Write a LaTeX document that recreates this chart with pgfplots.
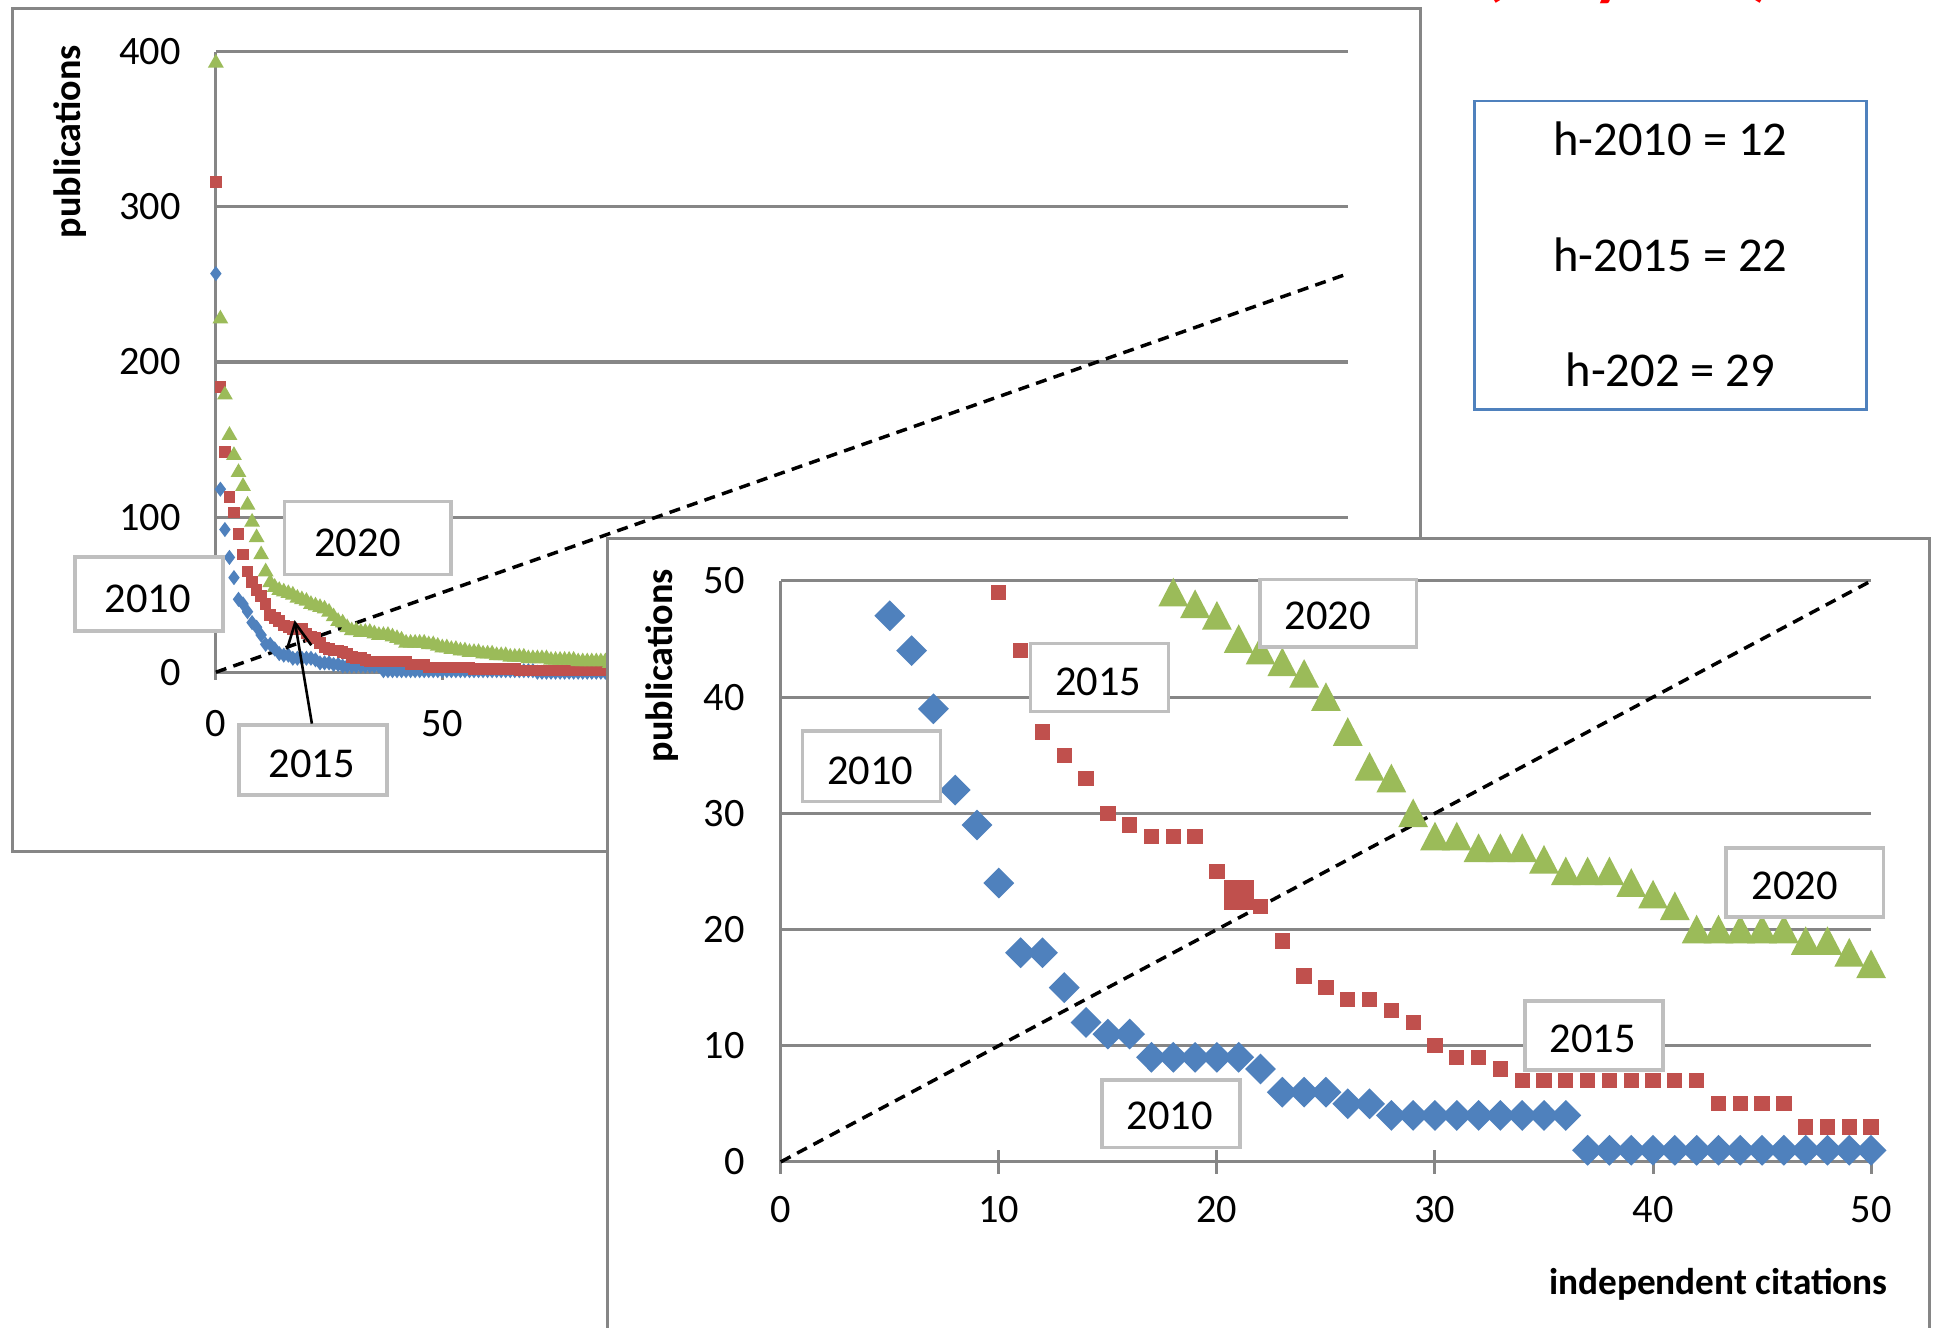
\documentclass[border=0pt]{standalone}
\usepackage{pgfplots}
\pgfplotsset{compat=1.18}
\usepackage{pgfplotstable}
\usepackage{fontspec}
\setmainfont{Carlito}
\usetikzlibrary{arrows.meta}
\definecolor{cblue}{HTML}{4F81BD}
\definecolor{cred}{HTML}{C0504D}
\definecolor{cgreen}{HTML}{9BBB59}
\definecolor{gridc}{HTML}{868686}
\definecolor{lblc}{HTML}{BFBFBF}

\pgfplotstableread{
x y
0 257
1 118
2 92
3 74
4 61
5 47
6 44
7 39
8 32
9 29
10 24
11 18
12 18
13 15
14 12
15 11
16 11
17 9
18 9
19 9
20 9
21 9
22 8
23 6
24 6
25 6
26 5
27 5
28 4
29 4
30 4
31 4
32 4
33 4
34 4
35 4
36 4
37 1
38 1
39 1
40 1
41 1
42 1
43 1
44 1
45 1
46 1
47 1
48 1
49 1
50 1
51 1
52 1
53 1
54 1
55 1
56 1
57 1
58 1
59 1
60 1
61 1
62 1
63 1
64 1
65 1
66 1
67 1
68 1
69 1
70 1
71 0
72 0
73 0
74 0
75 0
76 0
77 0
78 0
79 0
80 0
81 0
82 0
83 0
84 0
85 0
86 0
87 0
88 0
89 0
90 0
}\tblue

\pgfplotstableread{
x y
0 316
1 184
2 142
3 113
4 103
5 89
6 76
7 65
8 58
9 53
10 49
11 44
12 37
13 35
14 33
15 30
16 29
17 28
18 28
19 28
20 25
21 23
22 22
23 19
24 16
25 15
26 14
27 14
28 13
29 12
30 10
31 9
32 9
33 8
34 7
35 7
36 7
37 7
38 7
39 7
40 7
41 7
42 7
43 5
44 5
45 5
46 5
47 3
48 3
49 3
50 3
51 3
52 3
53 3
54 3
55 3
56 3
57 2
58 2
59 2
60 2
61 2
62 2
63 2
64 2
65 2
66 2
67 1
68 1
69 1
70 1
71 1
72 1
73 1
74 1
75 1
76 1
77 1
78 1
79 1
80 1
81 1
82 1
83 1
84 1
85 1
86 1
87 1
88 1
89 1
90 1
}\tred

\pgfplotstableread{
x y
0 394
1 229
2 180
3 154
4 141
5 130
6 121
7 109
8 98
9 88
10 77
11 66
12 59
13 56
14 54
15 53
16 52
17 51
18 49
19 48
20 47
21 45
22 44
23 43
24 42
25 40
26 37
27 34
28 33
29 30
30 28
31 28
32 27
33 27
34 27
35 26
36 25
37 25
38 25
39 24
40 23
41 22
42 20
43 20
44 20
45 20
46 20
47 19
48 19
49 18
50 17
51 17
52 16
53 16
54 15
55 15
56 14
57 14
58 14
59 13
60 13
61 13
62 12
63 12
64 12
65 11
66 11
67 11
68 11
69 10
70 10
71 10
72 10
73 10
74 9
75 9
76 9
77 9
78 9
79 9
80 8
81 8
82 8
83 8
84 8
85 8
86 8
87 7
88 7
89 7
90 7
}\tgreen

\pgfplotsset{
  mystyle/.style={
    scale only axis, anchor=south west, clip=false,
    axis lines*=left, axis line style={-, draw=gridc, line width=0.7pt},
    ymajorgrids, major grid style={draw=gridc, line width=0.7pt},
    xtick style={draw=gridc, line width=0.7pt}, ytick style={draw=none},
    ticklabel style={font=\fontsize{9.3}{11}\selectfont},
    /pgf/number format/assume math mode=true,
  },
}
\tikzset{lblbox/.style={draw=lblc, fill=white, line width=0.8pt}}

\begin{document}
\begin{tikzpicture}
\begin{scope}[x=0.01cm,y=-0.01cm,shift={(0,10.76cm)}]
  \draw[gridc, fill=white, line width=0.7pt] (10,7) rectangle (1152,691);
\end{scope}

% main chart
\begin{axis}[mystyle,
  at={(1.75cm,5.31cm)}, width=9.18cm, height=5.03cm,
  xmin=0, xmax=250, ymin=0, ymax=400,
  xtick={0,50,...,250}, ytick={0,100,...,400},
  tick align=outside, major tick length=0.06cm,
  xticklabel style={anchor=base, inner sep=0pt, yshift=-0.46cm},
  yticklabel style={anchor=east, inner sep=0pt, xshift=-0.22cm},
]
\addplot[only marks, mark=diamond*, mark size=0.05cm, mark options={draw=cblue, fill=cblue}] table[x=x,y=y] {\tblue};
\addplot[only marks, mark=square*, mark size=0.04cm, mark options={draw=cred, fill=cred}] table[x=x,y=y] {\tred};
\addplot[only marks, mark=triangle*, mark size=0.06cm, mark options={draw=cgreen, fill=cgreen, yshift=-0.015cm}] table[x=x,y=y] {\tgreen};
\addplot[black, line width=0.8pt, dash pattern=on 0.09cm off 0.06cm] coordinates {(0,0) (250,257)};
\end{axis}

\begin{scope}[x=0.01cm,y=-0.01cm,shift={(0,10.76cm)}]
  \node[rotate=90, font=\bfseries\fontsize{8.8}{10}\selectfont] at (57,115) {publications};
  \draw[lblbox] (231,407) rectangle (366,466);
  \node[font=\fontsize{9.8}{12}\selectfont] at (290,440) {2020};
  \draw[lblbox] (61,452) rectangle (181,512);
  \node[font=\fontsize{9.8}{12}\selectfont] at (120,486) {2010};
  \draw[lblbox] (194,588) rectangle (314,645);
  \node[font=\fontsize{9.8}{12}\selectfont] at (253,620) {2015};
  \draw[black, line width=0.6pt, -{Straight Barb[length=0.2cm,width=0.2cm]}] (253,587) -- (239,503);
  % inset frame
  \draw[gridc, fill=white, line width=0.7pt] (493,437) rectangle (1565,1095);
\end{scope}

% inset chart
\begin{axis}[mystyle,
  at={(6.33cm,1.34cm)}, width=8.84cm, height=4.71cm,
  xmin=0, xmax=50, ymin=0, ymax=50,
  xtick={0,10,...,50}, ytick={0,10,...,50},
  tick align=center, major tick length=0.19cm,
  xticklabel style={anchor=base, inner sep=0pt, yshift=-0.40cm},
  yticklabel style={anchor=east, inner sep=0pt, xshift=-0.19cm},
  restrict x to domain=0:50, restrict y to domain=0:50,
]
\addplot[only marks, mark=diamond*, mark size=0.115cm, mark options={draw=cblue, fill=cblue, xscale=1.333}] table[x=x,y=y] {\tblue};
\addplot[only marks, mark=square*, mark size=0.055cm, mark options={draw=cred, fill=cred}] table[x=x,y=y] {\tred};
\addplot[only marks, mark=square*, mark size=0.115cm, mark options={draw=cred, fill=cred}] coordinates {(21,23)};
\addplot[only marks, mark=triangle*, mark size=0.14cm, mark options={draw=cgreen, fill=cgreen, xscale=0.9, yshift=-0.035cm}] table[x=x,y=y] {\tgreen};
\addplot[black, line width=0.8pt, dash pattern=on 0.09cm off 0.06cm] coordinates {(0,0) (50,50)};
\end{axis}

\begin{scope}[x=0.01cm,y=-0.01cm,shift={(0,10.76cm)}]
  \node[rotate=90, font=\bfseries\fontsize{8.8}{10}\selectfont] at (537,540) {publications};
  \node[font=\bfseries\fontsize{8.6}{10}\selectfont] at (1394,1042) {independent citations};
  \draw[lblbox] (1022,470) rectangle (1149,525);
  \node[font=\fontsize{9.8}{12}\selectfont] at (1077,500) {2020};
  \draw[lblbox] (836,522) rectangle (948,577);
  \node[font=\fontsize{9.8}{12}\selectfont] at (891,553) {2015};
  \draw[lblbox] (651,593) rectangle (763,650);
  \node[font=\fontsize{9.8}{12}\selectfont] at (706,625) {2010};
  \draw[lblbox] (1400,688) rectangle (1528,744);
  \node[font=\fontsize{9.8}{12}\selectfont] at (1456,719) {2020};
  \draw[lblbox] (1237,812) rectangle (1349,868);
  \node[font=\fontsize{9.8}{12}\selectfont] at (1292,843) {2015};
  \draw[lblbox] (894,876) rectangle (1006,931);
  \node[font=\fontsize{9.8}{12}\selectfont] at (949,905) {2010};
  % h box
  \draw[cblue, line width=0.6pt] (1196,82) rectangle (1514,332);
  \node[font=\fontsize{11.2}{13}\selectfont] at (1355,113) {h-2010 = 12};
  \node[font=\fontsize{11.2}{13}\selectfont] at (1355,207) {h-2015 = 22};
  \node[font=\fontsize{11.2}{13}\selectfont] at (1355,300) {h-202 = 29};
  % title (cut off at the top)
  \node[anchor=base west, inner sep=0pt, text=red, font=\bfseries\fontsize{16.5}{20}\selectfont] at (1202,-6) {(10 years)};
\end{scope}

\pgfresetboundingbox
\path[use as bounding box] (0,0) rectangle (15.68cm,10.76cm);
\end{tikzpicture}
\end{document}
